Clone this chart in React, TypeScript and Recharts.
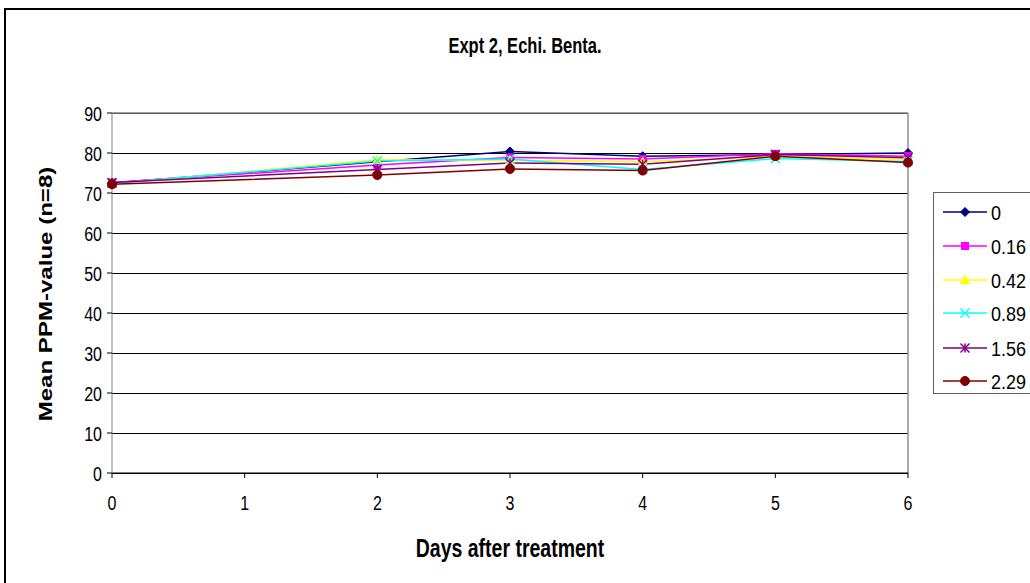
import React from "react";
import {
  LineChart,
  Line,
  XAxis,
  YAxis,
  CartesianGrid,
  ReferenceLine,
} from "recharts";

const days = [0, 2, 3, 4, 5, 6];
const dose0 = [72.5, 77.8, 80.4, 79.2, 79.6, 80.0];
const dose016 = [72.6, 77.0, 78.9, 78.5, 79.8, 79.2];
const dose042 = [72.3, 78.3, 78.2, 77.8, 79.1, 78.4];
const dose089 = [72.4, 78.0, 78.5, 75.9, 78.6, 77.9];
const dose156 = [72.6, 75.9, 77.5, 77.2, 79.6, 78.8];
const dose229 = [72.2, 74.5, 76.0, 75.6, 79.2, 77.6];

const xTicks = [0, 1, 2, 3, 4, 5, 6];
const yTicks = [0, 10, 20, 30, 40, 50, 60, 70, 80, 90];

type Shape = "diamond" | "square" | "triangle" | "x" | "star" | "circle";

const series: { key: string; name: string; color: string; shape: Shape; values: number[] }[] = [
  { key: "d0", name: "0", color: "#000080", shape: "diamond", values: dose0 },
  { key: "d016", name: "0.16", color: "#FF00FF", shape: "square", values: dose016 },
  { key: "d042", name: "0.42", color: "#FFFF00", shape: "triangle", values: dose042 },
  { key: "d089", name: "0.89", color: "#00FFFF", shape: "x", values: dose089 },
  { key: "d156", name: "1.56", color: "#800080", shape: "star", values: dose156 },
  { key: "d229", name: "2.29", color: "#800000", shape: "circle", values: dose229 },
];

const data = days.map((day, i) => {
  const row: Record<string, number> = { day };
  series.forEach((s) => (row[s.key] = s.values[i]));
  return row;
});

const FONT = "'Liberation Sans', Arial, sans-serif";
// the source picture is stretched vertically, so text is taller than it is wide
const STRETCH = 1.3;

function Marker({ cx, cy, shape, color }: { cx: number; cy: number; shape: Shape; color: string }) {
  const r = 4.5;
  switch (shape) {
    case "diamond":
      return <polygon points={`${cx},${cy - r} ${cx + r},${cy} ${cx},${cy + r} ${cx - r},${cy}`} fill={color} stroke={color} />;
    case "square":
      return <rect x={cx - 3.5} y={cy - 3.5} width={7} height={7} fill={color} stroke={color} />;
    case "triangle":
      return <polygon points={`${cx},${cy - r} ${cx + r},${cy + 3.5} ${cx - r},${cy + 3.5}`} fill={color} stroke={color} />;
    case "x":
      return (
        <g stroke={color} strokeWidth={1.5}>
          <line x1={cx - r} y1={cy - r} x2={cx + r} y2={cy + r} />
          <line x1={cx - r} y1={cy + r} x2={cx + r} y2={cy - r} />
        </g>
      );
    case "star":
      return (
        <g stroke={color} strokeWidth={1.5}>
          <line x1={cx - r} y1={cy - r} x2={cx + r} y2={cy + r} />
          <line x1={cx - r} y1={cy + r} x2={cx + r} y2={cy - r} />
          <line x1={cx} y1={cy - r} x2={cx} y2={cy + r} />
        </g>
      );
    default:
      return <circle cx={cx} cy={cy} r={r} fill={color} stroke={color} />;
  }
}

function XTick({ x, y, payload }: any) {
  return (
    <g transform={`translate(${x},${y + 30}) scale(1,${STRETCH})`}>
      <text x={0} y={0} textAnchor="middle" fontSize={16} fontFamily={FONT} fill="#000">
        {payload.value}
      </text>
    </g>
  );
}

function YTick({ x, y, payload }: any) {
  return (
    <g transform={`translate(${x - 3},${y + 7.5}) scale(1,${STRETCH})`}>
      <text x={0} y={0} textAnchor="end" fontSize={16} fontFamily={FONT} fill="#000">
        {payload.value}
      </text>
    </g>
  );
}

function LegendBox() {
  const rows = [19, 53, 87, 120, 155, 188];
  return (
    <div
      style={{
        position: "absolute",
        left: 933,
        top: 192,
        width: 120,
        height: 202,
        border: "1px solid #606060",
        boxSizing: "border-box",
        background: "#fff",
      }}
    >
      <svg width={120} height={200}>
        {series.map((s, i) => (
          <g key={s.key}>
            <line x1={9} x2={53} y1={rows[i]} y2={rows[i]} stroke={s.color} strokeWidth={1.5} />
            <Marker cx={31} cy={rows[i]} shape={s.shape} color={s.color} />
            <g transform={`translate(57,${rows[i] + 7.5}) scale(1,1.15)`}>
              <text x={0} y={0} fontSize={18} fontFamily={FONT} fill="#000">
                {s.name}
              </text>
            </g>
          </g>
        ))}
      </svg>
    </div>
  );
}

export default function App() {
  return (
    <div
      style={{
        position: "fixed",
        left: 0,
        top: 0,
        width: 1030,
        height: 583,
        overflow: "hidden",
        background: "#fff",
        fontFamily: FONT,
      }}
    >
      <div
        style={{
          position: "absolute",
          left: 4,
          top: 8,
          width: 1100,
          height: 700,
          border: "2px solid #000",
        }}
      />
      <div
        style={{
          position: "absolute",
          left: 325,
          width: 400,
          top: 33,
          height: 24,
          lineHeight: "24px",
          textAlign: "center",
          fontSize: 16.5,
          fontWeight: "bold",
          transform: `scaleY(${STRETCH})`,
        }}
      >
        Expt 2, Echi. Benta.
      </div>
      <div
        style={{
          position: "absolute",
          left: 310,
          width: 400,
          top: 535,
          height: 26,
          lineHeight: "26px",
          textAlign: "center",
          fontSize: 19.5,
          fontWeight: "bold",
          transform: `scaleY(${STRETCH})`,
        }}
      >
        Days after treatment
      </div>
      <div
        style={{
          position: "absolute",
          left: 46 - 200,
          width: 400,
          top: 294 - 13,
          height: 26,
          lineHeight: "26px",
          textAlign: "center",
          fontSize: 18.5,
          fontWeight: "bold",
          transform: `rotate(-90deg) scaleX(${STRETCH})`,
        }}
      >
        Mean PPM-value (n=8)
      </div>
      <div style={{ position: "absolute", left: 0, top: 0 }}>
        <LineChart
          width={1030}
          height={583}
          data={data}
          margin={{ top: 113, right: 122, left: 52, bottom: 80 }}
        >
          <CartesianGrid vertical={false} stroke="#000" strokeWidth={1} shapeRendering="crispEdges" />
          <XAxis
            dataKey="day"
            type="number"
            domain={[0, 6]}
            ticks={xTicks}
            height={30}
            stroke="#000"
            tickSize={5}
            tick={<XTick />}
            interval={0}
          />
          <YAxis
            type="number"
            domain={[0, 90]}
            ticks={yTicks}
            width={60}
            stroke="#808080"
            tickLine={{ stroke: "#000" }}
            tickSize={5}
            tick={<YTick />}
            interval={0}
          />
          <ReferenceLine x={6} stroke="#909090" strokeWidth={1.5} />
          <ReferenceLine y={90} stroke="#808080" strokeWidth={1.5} />
          {series.map((s) => (
            <Line
              key={s.key}
              dataKey={s.key}
              name={s.name}
              type="linear"
              stroke={s.color}
              strokeWidth={1.5}
              isAnimationActive={false}
              dot={(p: any) => <Marker key={`${s.key}-${p.index}`} cx={p.cx} cy={p.cy} shape={s.shape} color={s.color} />}
              activeDot={false}
            />
          ))}
        </LineChart>
      </div>
      <LegendBox />
    </div>
  );
}
